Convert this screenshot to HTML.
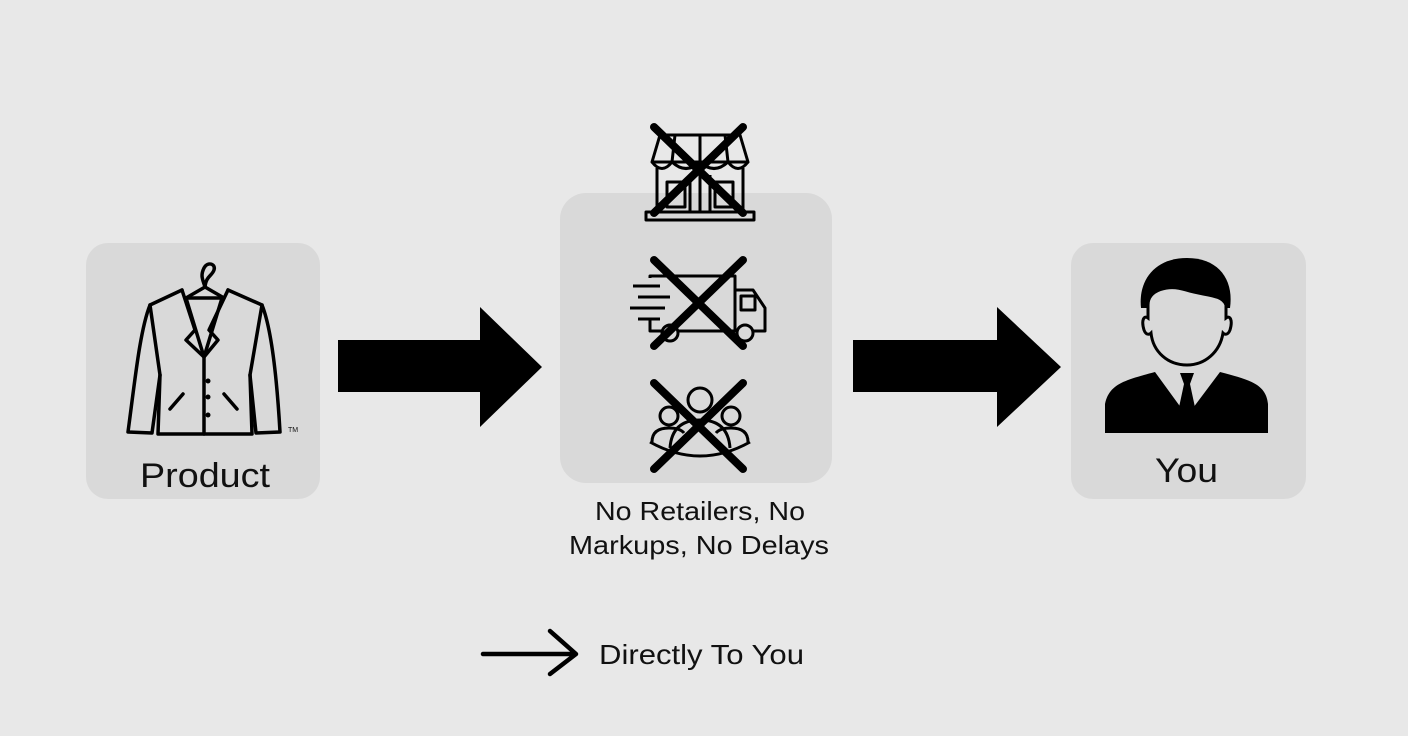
<!DOCTYPE html>
<html><head><meta charset="utf-8"><style>
html,body{margin:0;padding:0;background:#e8e8e8;}
svg{display:block;}
text{font-family:"Liberation Sans",sans-serif;fill:#111;}
</style></head><body>
<svg width="1408" height="736" viewBox="0 0 1408 736" xmlns="http://www.w3.org/2000/svg">
<rect width="1408" height="736" fill="#e8e8e8"/>
<rect x="86" y="243" width="234" height="256" rx="22" fill="#d9d9d9"/>
<rect x="560" y="193" width="272" height="290" rx="26" fill="#d9d9d9"/>
<rect x="1071" y="243" width="235" height="256" rx="22" fill="#d9d9d9"/>
<polygon points="338,340 480,340 480,307 542,367 480,427 480,392 338,392" fill="#000"/>
<polygon points="853,340 997,340 997,307 1061,367 997,427 997,392 853,392" fill="#000"/>
<g fill="none" stroke="#000" stroke-width="3.5" stroke-linejoin="round" stroke-linecap="round">
<path d="M205,287 C203,280 200,276 204,268 C208,261 216,264 214,270 C212,276 206,276 205,287"/>
<path d="M186,298 L205,287 L224,298"/>
<path d="M186,298 L222,298"/>
<path d="M182,290 L150,305 C140,330 135,380 128,432 L152,433 L160,375"/>
<path d="M228,290 L262,305 C272,330 277,380 280,432 L256,433 L250,375"/>
<path d="M150,305 L160,375 L158,434 L252,434 L250,375 L262,305"/>
<path d="M182,290 L195,330 L186,340 L204,357 L218,340 L209,330 L228,290"/>
<path d="M186,298 L204,357 L222,298"/>
<path d="M204,357 L204,434"/>
<path d="M170,409 L183,394 M237,409 L224,394"/>
</g>
<g fill="#000"><circle cx="208" cy="381" r="2.5"/><circle cx="208" cy="397" r="2.5"/><circle cx="208" cy="415" r="2.5"/></g>
<text x="288" y="432" font-size="7" fill="#444">TM</text>
<text x="140" y="487" font-size="34" textLength="130" lengthAdjust="spacingAndGlyphs">Product</text>
<g fill="none" stroke="#000" stroke-width="3" stroke-linejoin="round">
<path d="M660,135 L740,135 L748,162 L652,162 Z"/>
<path d="M675,135 L672,162 M700,135 L700,162 M725,135 L728,162"/>
<path d="M652,162 Q662,175 672,162 Q686,175 700,162 Q714,175 728,162 Q738,175 748,162"/>
<path d="M657,168 L657,212 L743,212 L743,168"/>
<rect x="667" y="182" width="18" height="25"/><rect x="715" y="182" width="18" height="25"/>
<path d="M690,175 L690,212 M710,175 L710,212 M700,175 L700,212"/>
<rect x="646" y="212" width="108" height="8"/>
</g>
<g fill="none" stroke="#000" stroke-width="3" stroke-linejoin="round">
<path d="M650,278 L650,276 L735,276 L735,331 L650,331 L650,320"/>
<path d="M735,290 L753,290 L765,308 L765,331 L735,331"/>
<rect x="741" y="296" width="14" height="14"/>
<circle cx="670" cy="333" r="8" fill="#d9d9d9"/><circle cx="745" cy="333" r="8" fill="#d9d9d9"/>
<path d="M633,286 L660,286 M638,297 L670,297 M630,308 L665,308 M638,319 L660,319"/>
</g>
<g fill="none" stroke="#000" stroke-width="3">
<circle cx="700" cy="400" r="12"/>
<circle cx="669" cy="416" r="9"/><circle cx="731" cy="416" r="9"/>
<path d="M652,442 Q652,428 669,428 Q680,428 684,433"/>
<path d="M748,442 Q748,428 731,428 Q720,428 716,433"/>
<path d="M670,448 Q672,420 700,420 Q728,420 730,448"/>
<path d="M650,442 Q700,470 750,442"/>
</g>
<g stroke="#000" stroke-width="8" stroke-linecap="round">
<path d="M654,127 L743,213 M743,127 L654,213"/>
<path d="M654,260 L743,346 M743,260 L654,346"/>
<path d="M654,383 L743,469 M743,383 L654,469"/>
</g>
<text x="595" y="520" font-size="26" textLength="210" lengthAdjust="spacingAndGlyphs">No Retailers, No</text>
<text x="569" y="554" font-size="26" textLength="260" lengthAdjust="spacingAndGlyphs">Markups, No Delays</text>
<path d="M1141,308 C1138,280 1155,258 1187,258 C1219,258 1234,280 1230,308 Z" fill="#000"/>
<path d="M1148,305 C1148,290 1168,284 1186,290 C1205,296 1222,294 1226,305 L1226,318 C1230,315 1233,320 1230,330 C1228,335 1225,335 1223,333 C1220,352 1205,365 1187,365 C1168,365 1153,352 1151,333 C1149,335 1146,335 1144,330 C1141,320 1144,315 1148,318 Z" fill="#d9d9d9" stroke="#000" stroke-width="3"/>
<path d="M1105,433 L1268,433 L1268,404 C1266,384 1250,380 1220,372 L1187,416 L1155,372 C1125,380 1109,384 1105,404 Z" fill="#000"/>
<path d="M1180,373 L1194,373 L1190,384 L1196,412 L1187,419 L1178,412 L1184,384 Z" fill="#000"/>
<text x="1155" y="482" font-size="34" textLength="63" lengthAdjust="spacingAndGlyphs">You</text>
<g fill="none" stroke="#000" stroke-width="4.5" stroke-linecap="round" stroke-linejoin="round">
<path d="M483,654 L575,654 M550,631 L576,654 L550,674"/>
</g>
<text x="599" y="664" font-size="28" textLength="205" lengthAdjust="spacingAndGlyphs">Directly To You</text>
</svg>
</body></html>
